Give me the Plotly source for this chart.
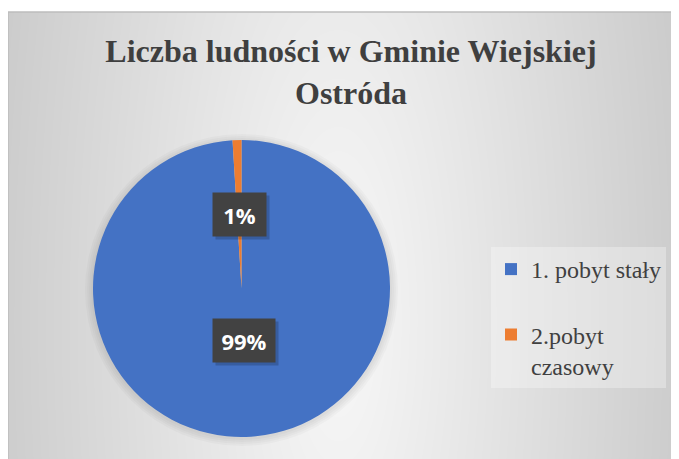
import base64
import math
import struct
import zlib

import numpy as np
import plotly.graph_objects as go

# ---------------- data ----------------
categories = ["1. pobyt stały", "2.pobyt czasowy"]
legend_labels = ["1. pobyt stały<br> ", "2.pobyt<br>czasowy"]
values = [15523, 151]
colors = ["#4472C4", "#ED7D31"]
title_lines = ["Liczba ludności w Gminie Wiejskiej", "Ostróda"]

# ---------------- geometry ----------------
# the page body adds an 8px offset; all target positions below are page pixels
OFF = 8
PAGE_W, PAGE_H = 679, 459
FIG_W, FIG_H = PAGE_W - OFF, PAGE_H - OFF
M_L, M_T = 0, 4
BOX_W, BOX_H = FIG_W - M_L, FIG_H - M_T


def px_x(p):  # page x -> paper x
    return (p - OFF - M_L) / BOX_W


def px_y(p):  # page y -> paper y
    return (PAGE_H - p) / BOX_H


dom_x = [px_x(93), px_x(390)]
dom_y = [px_y(437), px_y(140)]

# ---------------- background gradient image ----------------
xs = np.arange(BOX_W) + OFF + M_L
ys = np.arange(BOX_H) + OFF + M_T
X, Y = np.meshgrid(xs, ys)
t = np.sqrt(((X - 338) / 490.0) ** 2 + ((Y - 320) / 1500.0) ** 2)
g = np.clip(248 - 62 * t, 192, 250).astype(np.uint8)
raw = b"".join(b"\x00" + row.tobytes() for row in g)


def _chunk(tag, data):
    return (struct.pack(">I", len(data)) + tag + data
            + struct.pack(">I", zlib.crc32(tag + data) & 0xFFFFFFFF))


png = (b"\x89PNG\r\n\x1a\n"
       + _chunk(b"IHDR", struct.pack(">IIBBBBB", BOX_W, BOX_H, 8, 0, 0, 0, 0))
       + _chunk(b"IDAT", zlib.compress(raw, 9))
       + _chunk(b"IEND", b""))
bg_uri = "data:image/png;base64," + base64.b64encode(png).decode()

# ---------------- figure ----------------
fig = go.Figure()
fig.add_trace(go.Pie(
    labels=legend_labels,
    values=values,
    sort=False,
    direction="clockwise",
    rotation=0,
    marker=dict(colors=colors, line=dict(width=0)),
    textinfo="none",
    hoverinfo="label+percent",
    domain=dict(x=dom_x, y=dom_y),
    showlegend=True,
))

# data labels (positioned from the data: mid-angle of every slice at half radius)
total = sum(values)
cx = (dom_x[0] + dom_x[1]) / 2
cy = (dom_y[0] + dom_y[1]) / 2
r_px = min((dom_x[1] - dom_x[0]) * BOX_W, (dom_y[1] - dom_y[0]) * BOX_H) / 2
cum = 0.0
annotations = []
for v in values:
    mid = (cum + v / 2) / total
    cum += v
    th = 2 * math.pi * mid
    lx = cx + 0.5 * r_px * math.sin(th) / BOX_W
    ly = cy + 0.5 * r_px * math.cos(th) / BOX_H
    txt = f"{round(100 * v / total)}%"
    w = 41 + 9 * (len(txt) - 2)
    # soft shadow
    annotations.append(dict(
        x=lx, y=ly, xref="paper", yref="paper", text=" ", showarrow=False,
        xshift=3, yshift=-3, width=w, height=31, borderpad=6,
        bgcolor="rgba(0,0,0,0.18)", font=dict(size=22)))
    annotations.append(dict(
        x=lx, y=ly, xref="paper", yref="paper", text=f"<b>{txt}</b>",
        showarrow=False, width=w, height=31, borderpad=6,
        bgcolor="#424242",
        font=dict(family="Open Sans, DejaVu Sans, sans-serif", size=22, color="#FFFFFF")))

# faint soft shadow around the pie
shapes = []
for d in (2, 4, 6, 8):
    shapes.append(dict(
        type="circle", xref="paper", yref="paper", layer="below",
        x0=cx - (r_px + d) / BOX_W, x1=cx + (r_px + d) / BOX_W,
        y0=cy - (r_px + d + 1) / BOX_H, y1=cy + (r_px + d - 2) / BOX_H,
        fillcolor="rgba(0,0,0,0.025)", line=dict(width=0)))
shapes += [
    dict(type="line", xref="paper", yref="paper", x0=0, x1=0, y0=0, y1=1,
         line=dict(color="#BDBDBD", width=1.5)),
    dict(type="line", xref="paper", yref="paper", x0=0, x1=1, y0=1, y1=1,
         line=dict(color="#BDBDBD", width=1.5)),
]

fig.update_layout(
    width=FIG_W, height=FIG_H,
    margin=dict(l=M_L, t=M_T, r=0, b=0, pad=0),
    paper_bgcolor="#FFFFFF",
    title=dict(
        text="<br>".join(title_lines),
        x=(351 - OFF) / FIG_W, xref="container", xanchor="center",
        y=1 - 54 / FIG_H, yref="container", yanchor="top",
        font=dict(family="Liberation Serif, Times New Roman, serif", size=32,
                  color="#3F3F3F", weight="bold"),
    ),
    legend=dict(
        x=px_x(491), xanchor="left",
        y=px_y(247), yanchor="top",
        valign="top",
        bgcolor="rgba(255,255,255,0.30)",
        font=dict(family="Liberation Serif, Times New Roman, serif", size=24, color="#404040"),
        traceorder="normal",
    ),
    images=[dict(
        source=bg_uri, xref="paper", yref="paper", x=0, y=1, sizex=1, sizey=1,
        xanchor="left", yanchor="top", sizing="stretch", layer="below",
    )],
    shapes=shapes,
    annotations=annotations,
)

fig.write_html("out.html")
